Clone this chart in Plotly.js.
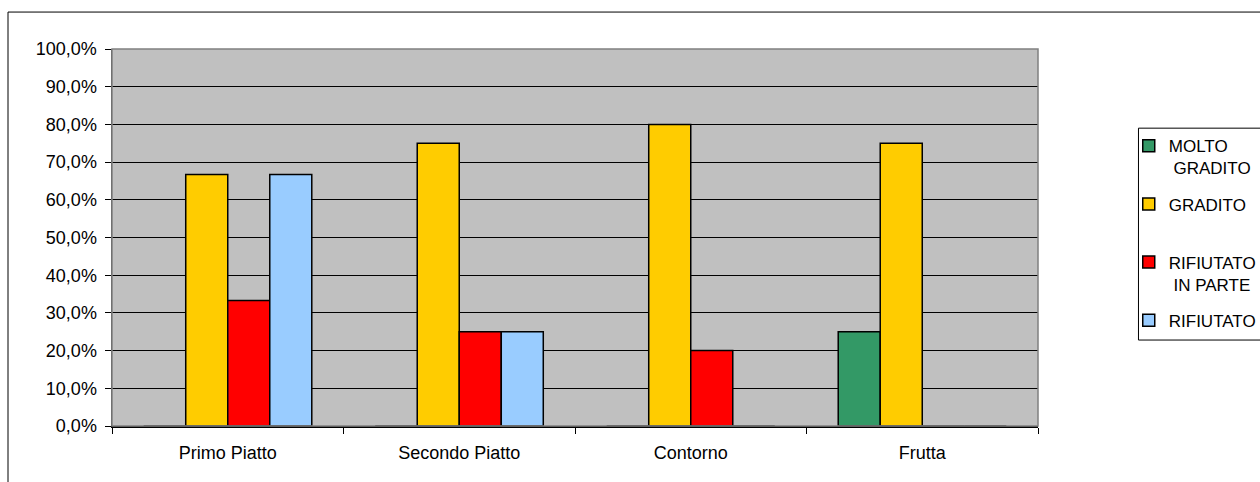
<!DOCTYPE html>
<html>
<head>
<meta charset="utf-8">
<script src="https://cdn.plot.ly/plotly-3.0.1.min.js"></script>
<style>
html,body{margin:0;padding:0;background:#fff;}
#chart{width:1260px;height:482px;}
</style>
</head>
<body>
<div id="chart"></div>
<script>
const categories = ["Primo Piatto", "Secondo Piatto", "Contorno", "Frutta"];
const seriesNames = ["MOLTO<br>&nbsp;GRADITO", "GRADITO<br>&nbsp;", "RIFIUTATO<br>&nbsp;IN PARTE", "RIFIUTATO"];
const moltoGradito = [0, 0, 0, 0.25];
const gradito = [0.667, 0.75, 0.80, 0.75];
const rifiutatoInParte = [0.333, 0.25, 0.20, 0];
const rifiutato = [0.667, 0.25, 0, 0];
const seriesColors = ["#339966", "#FFCC00", "#FF0000", "#99CCFF"];
const yTicks = [0, 0.1, 0.2, 0.3, 0.4, 0.5, 0.6, 0.7, 0.8, 0.9, 1.0];

const seriesValues = [moltoGradito, gradito, rifiutatoInParte, rifiutato];
const traces = seriesValues.map((vals, i) => ({
  type: "bar",
  name: seriesNames[i],
  x: categories,
  y: vals,
  legendgroup: "g" + i,
  marker: {color: seriesColors[i], line: {color: "#000000", width: 1.5}},
  hoverinfo: "none"
}));

const font = {family: "Liberation Sans, Arial, sans-serif", size: 18, color: "#000000"};

const layout = {
  width: 1260,
  height: 482,
  margin: {l: 112, r: 222, t: 49, b: 56, autoexpand: false},
  paper_bgcolor: "#FFFFFF",
  plot_bgcolor: "#C0C0C0",
  separators: ",.",
  font: font,
  barmode: "group",
  bargap: 0.274,
  bargroupgap: 0,
  showlegend: true,
  legend: {
    x: 1.098, xanchor: "left",
    y: 0.79, yanchor: "top",
    valign: "top",
    bgcolor: "rgba(0,0,0,0)",
    borderwidth: 0,
    font: {family: "Liberation Sans, Arial, sans-serif", size: 17, color: "#000000"},
    tracegroupgap: 11,
    traceorder: "grouped"
  },
  xaxis: {
    type: "category",
    tickson: "boundaries",
    ticks: "outside",
    ticklen: 6,
    tickcolor: "#000000",
    showgrid: false,
    showline: true,
    linecolor: "#000000",
    linewidth: 1.5,
    tickfont: font,
    ticklabelstandoff: 10,
    fixedrange: true
  },
  yaxis: {
    range: [0, 1],
    tickvals: yTicks,
    tickformat: ".1%",
    ticks: "outside",
    ticklen: 6,
    tickcolor: "#000000",
    showgrid: true,
    gridcolor: "#000000",
    gridwidth: 1,
    showline: true,
    linecolor: "#404040",
    linewidth: 1.5,
    zeroline: false,
    tickfont: font,
    ticklabelstandoff: 4,
    fixedrange: true
  },
  shapes: [
    {type: "rect", xref: "paper", yref: "paper", x0: 0, x1: 1, y0: 0, y1: 1,
     line: {color: "#808080", width: 1.5}, fillcolor: "rgba(0,0,0,0)", layer: "above"},
    {type: "rect", xref: "paper", yref: "paper", x0: -0.1123, x1: 1.26, y0: -0.17, y1: 1.098,
     line: {color: "#000000", width: 1}, fillcolor: "rgba(0,0,0,0)"},
    {type: "rect", xref: "paper", yref: "paper", x0: 1.1085, x1: 1.26, y0: 0.228, y1: 0.790,
     line: {color: "#000000", width: 1}, fillcolor: "rgba(0,0,0,0)"}
  ]
};

Plotly.newPlot("chart", traces, layout, {displayModeBar: false, staticPlot: true});
</script>
</body>
</html>
